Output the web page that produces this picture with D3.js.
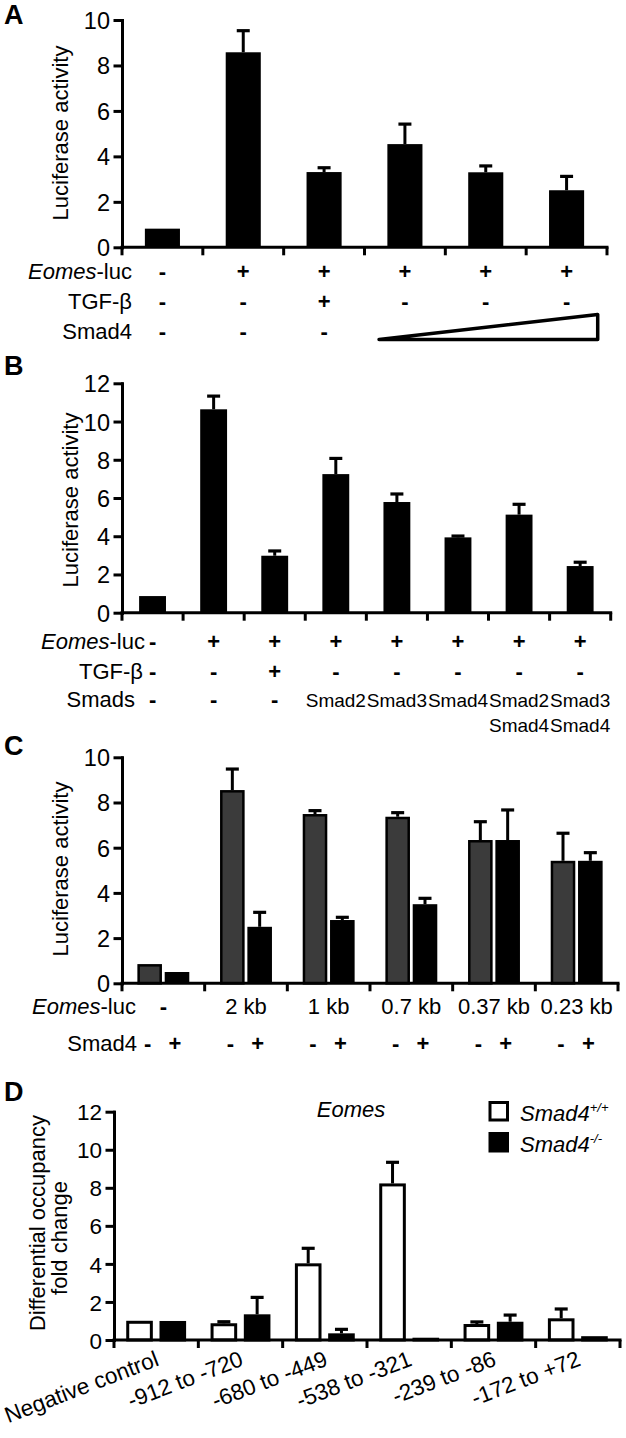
<!DOCTYPE html>
<html><head><meta charset="utf-8">
<script src="https://cdn.jsdelivr.net/npm/d3@7"></script>
<style>body{margin:0;background:#fff} svg{display:block}</style>
</head><body><svg id="c" width="626" height="1438"></svg>
<script>
const FONT='"Liberation Sans", Arial, Helvetica, sans-serif';

// ---------- Panel A data ----------
const aCats=["A1","A2","A3","A4","A5","A6"];
const aValues=[0.82,8.58,3.31,4.54,3.30,2.51];
const aErrors=[0,0.95,0.19,0.88,0.28,0.61];
const aTicks=[0,2,4,6,8,10];
const aEomes=["-","+","+","+","+","+"];
const aTGF=["-","-","+","-","-","-"];
const aSmad4=["-","-","-"];

// ---------- Panel B data ----------
const bCats=["B1","B2","B3","B4","B5","B6","B7","B8"];
const bValues=[0.87,10.64,2.98,7.25,5.79,3.94,5.13,2.44];
const bErrors=[0,0.69,0.25,0.82,0.42,0.07,0.54,0.20];
const bTicks=[0,2,4,6,8,10,12];
const bEomes=["-","+","+","+","+","+","+","+"];
const bTGF=["-","-","+","-","-","-","-","-"];
const bSmads=["-","-","-","Smad2","Smad3","Smad4","Smad2\nSmad4","Smad3\nSmad4"];

// ---------- Panel C data ----------
const cCats=["-","2 kb","1 kb","0.7 kb","0.37 kb","0.23 kb"];
const cMinusValues=[0.85,8.55,7.49,7.37,6.34,5.42];
const cMinusErrors=[0,0.93,0.15,0.18,0.81,1.22];
const cPlusValues=[0.50,2.50,2.80,3.50,6.34,5.42];
const cPlusErrors=[0,0.64,0.12,0.26,1.33,0.36];
const cTicks=[0,2,4,6,8,10];

// ---------- Panel D data ----------
const dCats=["Negative control","-912 to -720","-680 to -449","-538 to -321","-239 to -86","-172 to +72"];
const dWTValues=[1.01,0.88,4.03,8.23,0.84,1.14];
const dWTErrors=[0,0.08,0.79,1.11,0.11,0.49];
const dKOValues=[1.00,1.35,0.35,0.12,0.96,0.20];
const dKOErrors=[0,0.89,0.21,0,0.35,0];
const dTicks=[0,2,4,6,8,10,12];

const svg=d3.select("#c").attr("font-family",FONT);

function drawPanel(o){
  const g=svg.append("g");
  const x=d3.scaleBand().domain(o.cats).range([o.x0,o.x1]).padding(0);
  const y=d3.scaleLinear().domain([0,o.yMax]).range([o.yB,o.yT]);
  const keys=o.series.map(s=>s.key);
  const xs=d3.scaleBand().domain(keys)
    .range([x.bandwidth()*o.sub[0],x.bandwidth()*o.sub[1]]).paddingInner(o.subPad||0);
  o.series.forEach(s=>{
    const data=o.cats.map((c,i)=>({c,v:s.values[i],e:s.errors[i]}));
    const gg=g.append("g");
    const cx=d=>x(d.c)+xs(s.key)+xs.bandwidth()/2;
    const eb=data.filter(d=>d.e>0);
    gg.selectAll("line.ev").data(eb).join("line")
      .attr("x1",cx).attr("x2",cx).attr("y1",d=>y(d.v)).attr("y2",d=>y(d.v+d.e))
      .attr("stroke","#000").attr("stroke-width",3);
    gg.selectAll("line.ec").data(eb).join("line")
      .attr("x1",d=>cx(d)-6.5).attr("x2",d=>cx(d)+6.5).attr("y1",d=>y(d.v+d.e)).attr("y2",d=>y(d.v+d.e))
      .attr("stroke","#000").attr("stroke-width",3.2);
    gg.selectAll("rect").data(data).join("rect")
      .attr("x",d=>x(d.c)+xs(s.key)+s.sw/2).attr("width",xs.bandwidth()-s.sw)
      .attr("y",d=>y(d.v)+s.sw/2).attr("height",d=>Math.max(0.5,y(0)-y(d.v)-s.sw/2))
      .attr("fill",s.fill).attr("stroke",s.sw>0?"#000":"none").attr("stroke-width",s.sw);
  });
  const ya=g.append("g").attr("transform",`translate(${o.x0},0)`)
    .call(d3.axisLeft(y).tickValues(o.ticks).tickSize(7).tickSizeOuter(0).tickPadding(5));
  ya.selectAll("path,line").attr("stroke","#000").attr("stroke-width",3).attr("stroke-linecap","square");
  ya.selectAll("text").attr("font-family",FONT).attr("font-size",o.tickFont||22).attr("fill","#000").attr("dy","0.36em");
  const bounds=d3.range(o.cats.length+1).map(i=>o.x0+i*x.step());
  g.append("line").attr("x1",o.x0).attr("x2",o.x1).attr("y1",y(0)).attr("y2",y(0))
    .attr("stroke","#000").attr("stroke-width",3).attr("stroke-linecap","square");
  g.selectAll("line.xt").data(bounds).join("line")
    .attr("x1",d=>d).attr("x2",d=>d).attr("y1",y(0)).attr("y2",y(0)+8)
    .attr("stroke","#000").attr("stroke-width",3);
  if(o.title){
    o.title.forEach(t=>{
      g.append("text").attr("transform",`translate(${t.x},${t.cy}) rotate(-90)`)
        .attr("text-anchor","middle").attr("font-size",22).text(t.text);
    });
  }
  g.append("text").attr("x",4).attr("y",o.letterY).attr("font-size",27).attr("font-weight","bold").text(o.letter);
  return {x,y,xs,g};
}

function rowLabel(parts,rightX,base,size){
  const t=svg.append("text").attr("x",rightX).attr("y",base).attr("text-anchor","end").attr("font-size",size||22);
  parts.forEach(p=>t.append("tspan").attr("font-style",p.i?"italic":"normal").text(p.t));
}
function signs(arr,xf,base,size,bold){
  svg.append("g").selectAll("text").data(arr).join("text")
    .attr("x",(d,i)=>xf(i)).attr("y",base).attr("text-anchor","middle")
    .attr("font-size",size||22).attr("font-weight",bold===false?"normal":"bold").text(d=>d);
}

// ---------- A ----------
const A=drawPanel({cats:aCats,x0:122,x1:607,yB:247.3,yT:20,yMax:10,ticks:aTicks,tickFont:23.5,
  series:[{key:"s",values:aValues,errors:aErrors,fill:"#000",sw:0}],sub:[0.283,0.717],
  title:[{text:"Luciferase activity",x:68,cy:133}],letter:"A",letterY:24});
const aC=i=>A.x(aCats[i])+A.x.bandwidth()/2;
rowLabel([{t:"Eomes",i:true},{t:"-luc"}],132,279);
signs(aEomes,aC,279);
rowLabel([{t:"TGF-β"}],132,309);
signs(aTGF,aC,309);
rowLabel([{t:"Smad4"}],132,339);
signs(aSmad4,aC,339);
{
  const st=A.x.step(), l=A.x(aCats[3])+st*0.18, r=A.x(aCats[5])+st*0.885;
  svg.append("path").attr("d",`M${l},339.5L${r},314.5L${r},339.5Z`)
    .attr("fill","#fff").attr("stroke","#000").attr("stroke-width",3.5).attr("stroke-linejoin","round");
}

// ---------- B ----------
const B=drawPanel({cats:bCats,x0:122,x1:610.7,yB:612.7,yT:383.3,yMax:12,ticks:bTicks,tickFont:23.5,
  series:[{key:"s",values:bValues,errors:bErrors,fill:"#000",sw:0}],sub:[0.28,0.72],
  title:[{text:"Luciferase activity",x:78,cy:500}],letter:"B",letterY:375});
const bC=i=>B.x(bCats[i])+B.x.bandwidth()/2;
rowLabel([{t:"Eomes",i:true},{t:"-luc"}],145,649);
signs(bEomes,bC,649);
rowLabel([{t:"TGF-β"}],143,679);
signs(bTGF,bC,679);
rowLabel([{t:"Smads"}],135,707);
svg.append("g").selectAll("text").data(bSmads).join("text")
  .attr("x",(d,i)=>bC(i)).attr("y",707).attr("text-anchor","middle")
  .attr("font-size",d=>d==="-"?22:19).attr("font-weight",d=>d==="-"?"bold":"normal")
  .each(function(d){
    const lines=d.split("\n"), t=d3.select(this);
    lines.forEach((ln,k)=>t.append("tspan").attr("x",t.attr("x")).attr("dy",k?25:0).text(ln));
  });

// ---------- C ----------
const C=drawPanel({cats:cCats,x0:122,x1:618,yB:983.3,yT:757.3,yMax:10,ticks:cTicks,tickFont:23.5,
  series:[{key:"minus",values:cMinusValues,errors:cMinusErrors,fill:"#3b3b3b",sw:2.5},
          {key:"plus",values:cPlusValues,errors:cPlusErrors,fill:"#000",sw:0}],
  sub:[0.186,0.814],subPad:0.1,
  title:[{text:"Luciferase activity",x:68,cy:869}],letter:"C",letterY:755});
rowLabel([{t:"Eomes",i:true},{t:"-luc"}],136,1014);
svg.append("g").selectAll("text").data(cCats).join("text")
  .attr("x",d=>C.x(d)+C.x.bandwidth()/2).attr("y",1014).attr("text-anchor","middle")
  .attr("font-size",22).attr("font-weight",d=>d==="-"?"bold":"normal").text(d=>d);
rowLabel([{t:"Smad4"}],137,1051);
{
  const sg=[];
  cCats.forEach(c=>{sg.push({t:"-",x:C.x(c)+C.xs("minus")+C.xs.bandwidth()/2-2});
                    sg.push({t:"+",x:C.x(c)+C.xs("plus")+C.xs.bandwidth()/2-2});});
  svg.append("g").selectAll("text").data(sg).join("text").attr("x",d=>d.x).attr("y",1051)
    .attr("text-anchor","middle").attr("font-size",22).attr("font-weight","bold").text(d=>d.t);
}

// ---------- D ----------
const D=drawPanel({cats:dCats,x0:114,x1:620,yB:1340,yT:1111.7,yMax:12,ticks:dTicks,tickFont:22.5,
  series:[{key:"wt",values:dWTValues,errors:dWTErrors,fill:"#fff",sw:3},
          {key:"ko",values:dKOValues,errors:dKOErrors,fill:"#000",sw:3}],
  sub:[0.145,0.855],subPad:0.2,
  title:[{text:"Differential occupancy",x:45,cy:1223},{text:"fold change",x:67,cy:1238}],
  letter:"D",letterY:1101});
svg.append("g").selectAll("text").data(dCats).join("text")
  .attr("transform",d=>`translate(${D.x(d)+D.x.bandwidth()/2+4},1365) rotate(-21)`)
  .attr("text-anchor","end").attr("font-size",22.5).text(d=>d);
svg.append("text").attr("x",351).attr("y",1117).attr("text-anchor","middle")
  .attr("font-size",22).attr("font-style","italic").text("Eomes");
const legend=[{label:"Smad4",sup:"+/+",fill:"#fff",y:1101},{label:"Smad4",sup:"-/-",fill:"#000",y:1132}];
const lg=svg.append("g").selectAll("g").data(legend).join("g");
lg.append("rect").attr("x",490).attr("y",d=>d.y+1.5).attr("width",17.5).attr("height",17.5)
  .attr("fill",d=>d.fill).attr("stroke","#000").attr("stroke-width",3);
lg.append("text").attr("x",520).attr("y",d=>d.y+19.5).attr("font-size",22).attr("font-style","italic")
  .each(function(d){
    const t=d3.select(this);
    t.append("tspan").text(d.label);
    t.append("tspan").attr("font-size",13).attr("dy",-9).text(d.sup);
  });
</script></body></html>
